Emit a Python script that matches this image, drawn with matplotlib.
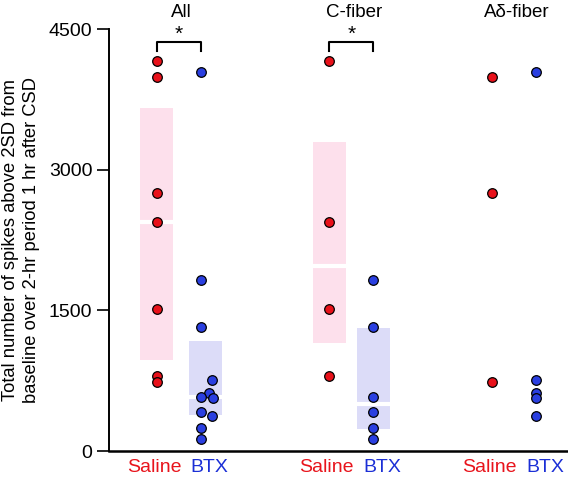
import matplotlib
matplotlib.use("Agg")
import matplotlib.pyplot as plt
import matplotlib.transforms as mtransforms

plt.rcParams['font.family'] = ['Liberation Sans', 'DejaVu Sans']

# ---------------- data ----------------
groups = ["All", "C-fiber", "A\u03b4-fiber"]
conditions = ["Saline", "BTX"]

saline_all = [4160, 3990, 2750, 2440, 1515, 800, 735]
btx_all = [4040, 1820, 1320, 760, 615, 580, 568, 412, 376, 242, 131]
saline_c = [4160, 2440, 1515, 800]
btx_c = [1820, 1320, 580, 412, 242, 131]
saline_ad = [3990, 2750, 735]
btx_ad = [4040, 760, 615, 568, 376]

# shaded bands: (low, high, median) per group for saline / btx (None = not drawn)
saline_band = [(970, 3661, 2442), (1155, 3292, 1973), None]
btx_band = [(384, 1173, 579), (235, 1312, 501), None]

sig_groups = [0, 1]  # groups with significance bracket "*"

yticks = [0, 1500, 3000, 4500]

# ---------------- layout ----------------
group_centers = [0.0, 3.92, 7.62]
half_sep = 0.5
# horizontal swarm offsets for the All-BTX points (layout only)
btx_all_jitter = [0, 0, 0, 0.25, 0.175, 0, 0.265, 0, 0.25, 0, 0]
band_shift = [[0, 0.1], [0, 0], [0, 0]]

red = "#e8111a"
blue = "#2a3fe0"
red_txt = "#e8141c"
blue_txt = "#1b2fd6"
pink = "#fde0ec"
lav = "#dcdcf8"

fig = plt.figure(figsize=(5.68, 4.79), dpi=100)
ax = fig.add_axes([109 / 568, 28 / 479, 1 - 109 / 568, 422 / 479])
ax.set_xlim(-1.59, 8.84)
ax.set_ylim(0, 4500)

sal_data = [saline_all, saline_c, saline_ad]
btx_data = [btx_all, btx_c, btx_ad]
box_w = 0.75
msize = 48

for gi, gc in enumerate(group_centers):
    xs = gc - half_sep
    xb = gc + half_sep
    for k, (x, band, col) in enumerate(((xs, saline_band[gi], pink), (xb, btx_band[gi], lav))):
        if band is None:
            continue
        x = x + band_shift[gi][k]
        lo, hi, med = band
        ax.bar(x, hi - lo, bottom=lo, width=box_w, color=col, zorder=1, linewidth=0)
        ax.plot([x - box_w / 2, x + box_w / 2], [med, med], color="white", lw=3,
                zorder=2, solid_capstyle="butt")
    ax.scatter([xs] * len(sal_data[gi]), sal_data[gi], s=msize, color=red,
               edgecolor="black", linewidth=0.9, zorder=3, clip_on=False)
    if gi == 0:
        bx = [xb + j for j in btx_all_jitter]
    else:
        bx = [xb] * len(btx_data[gi])
    ax.scatter(bx, btx_data[gi], s=msize, color=blue, edgecolor="black",
               linewidth=0.9, zorder=3, clip_on=False)

    # group title
    ax.text(gc + 0.05, 4680, groups[gi], ha="center", va="center",
            fontsize=13.5, clip_on=False)

    # condition labels below axis
    trans = mtransforms.blended_transform_factory(ax.transData, ax.transAxes)
    ax.text(gc - 0.57, -0.04, conditions[0], color=red_txt, ha="center",
            va="center", fontsize=14, transform=trans, clip_on=False)
    ax.text(gc + 0.7, -0.04, conditions[1], color=blue_txt, ha="center",
            va="center", fontsize=14, transform=trans, clip_on=False)

    if gi in sig_groups:
        ax.plot([xs, xs, xb, xb], [4266, 4358, 4358, 4266], color="black",
                lw=1.5, clip_on=False)
        ax.text(gc, 4440, "*", ha="center", va="center", fontsize=15,
                clip_on=False)

ax.spines["top"].set_visible(False)
ax.spines["right"].set_visible(False)
ax.spines["left"].set_linewidth(1.4)
ax.spines["bottom"].set_linewidth(1.8)
ax.set_xticks([])
ax.set_yticks(yticks)
ax.set_yticklabels([str(t) for t in yticks])
ax.tick_params(axis="y", length=9, width=1.2, labelsize=14, pad=3)
ax.set_ylabel("Total number of spikes above 2SD from\nbaseline over 2-hr period 1 hr after CSD",
              fontsize=13.2, linespacing=1.3, labelpad=6)

fig.savefig("out.png", dpi=100)
